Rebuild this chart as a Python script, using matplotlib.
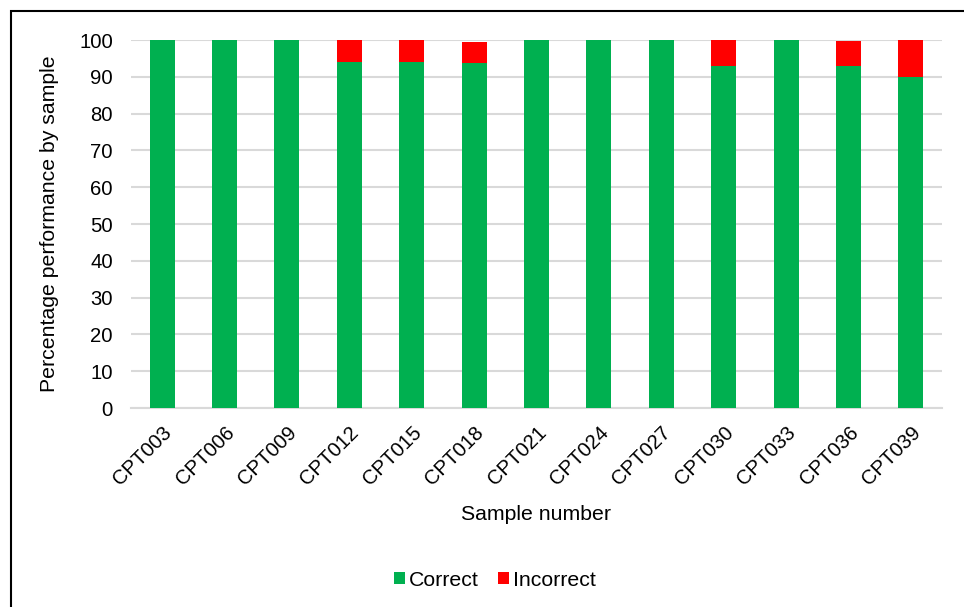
import matplotlib
matplotlib.use("Agg")
import matplotlib.pyplot as plt
from matplotlib.patches import Rectangle

samples = ["CPT003", "CPT006", "CPT009", "CPT012", "CPT015", "CPT018", "CPT021",
           "CPT024", "CPT027", "CPT030", "CPT033", "CPT036", "CPT039"]
correct = [100, 100, 100, 94, 94, 93.7, 100, 100, 100, 93, 100, 92.8, 90]
incorrect = [0, 0, 0, 6, 6, 5.8, 0, 0, 0, 7, 0, 6.9, 10]
yticks = [0, 10, 20, 30, 40, 50, 60, 70, 80, 90, 100]

plt.rcParams['font.family'] = ['Liberation Sans', 'DejaVu Sans']
FS = 14.6
LFS = 15.3

fig = plt.figure(figsize=(9.64, 6.07), dpi=100)
ax = fig.add_axes([131/964, 1-408/607, (942-131)/964, (408-40)/607])

x = list(range(len(samples)))
ax.bar(x, correct, width=0.4, color='#00B050', label='Correct', zorder=3)
ax.bar(x, incorrect, width=0.4, bottom=correct, color='#FF0000', label='Incorrect', zorder=3)

ax.set_xlim(-0.5, len(samples) - 0.5)
ax.set_ylim(0, 100)
ax.set_yticks(yticks)
ax.set_yticklabels([str(v) for v in yticks], fontsize=FS)
ax.set_xticks(x)
ax.set_xticklabels(samples, rotation=45, ha='right', rotation_mode='anchor', fontsize=FS)
ax.tick_params(axis='y', length=0, pad=13)
ax.tick_params(axis='x', length=0, pad=11)
ax.grid(axis='y', color='#d9d9d9', linewidth=1.5, zorder=0)
for s in ['top', 'right', 'left']:
    ax.spines[s].set_visible(False)
ax.spines['bottom'].set_color('#d9d9d9')
ax.spines['bottom'].set_linewidth(1.5)
ax.set_axisbelow(True)

fig.text(50/964, 1-224/607, 'Percentage performance by sample', fontsize=LFS,
         ha='center', va='center', rotation=90)
fig.text(536/964, 1-515/607, 'Sample number', fontsize=LFS, ha='center', va='center')

fig.legend(loc='center', bbox_to_anchor=(495/964, 1-580/607), ncol=2, frameon=False,
           fontsize=LFS, handlelength=0.52, handleheight=0.52, handletextpad=0.2,
           columnspacing=0.9, borderpad=0)

fig.patches.append(Rectangle((11/964, -0.1), 1.2, 1-11/607+0.1, transform=fig.transFigure,
                             fill=False, edgecolor='black', linewidth=1.5, zorder=10))

fig.savefig('out.png', dpi=100)
